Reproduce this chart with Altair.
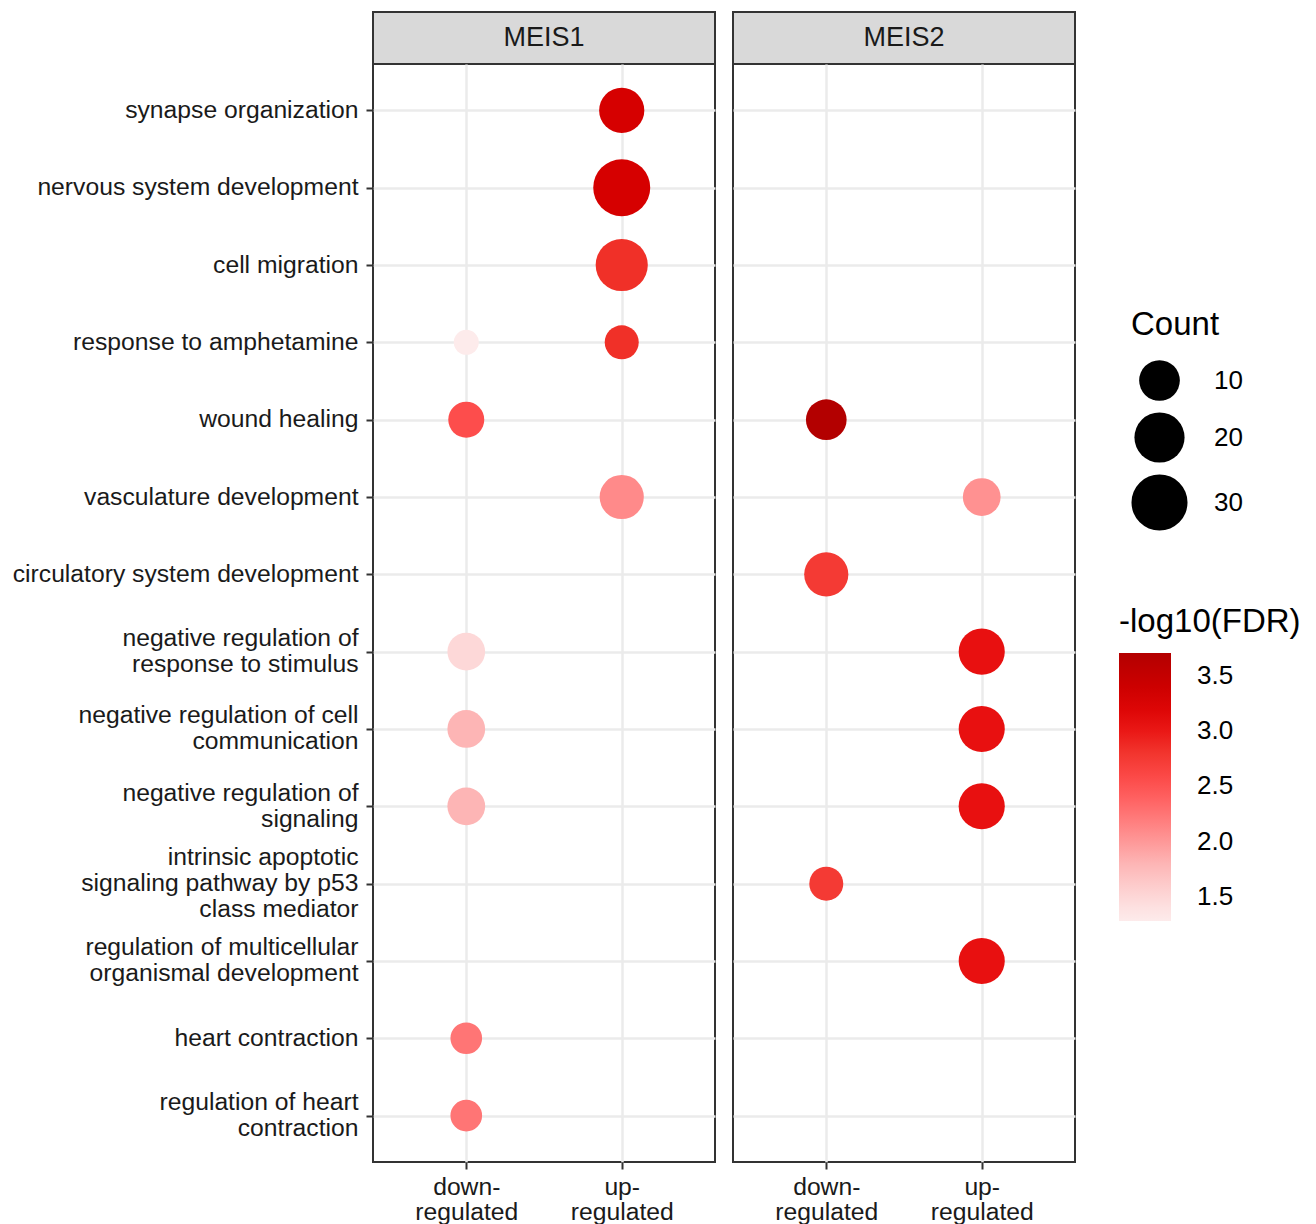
import altair as alt
import pandas as pd

FONT = "Liberation Sans"

terms = [
    "synapse organization",
    "nervous system development",
    "cell migration",
    "response to amphetamine",
    "wound healing",
    "vasculature development",
    "circulatory system development",
    "negative regulation of\nresponse to stimulus",
    "negative regulation of cell\ncommunication",
    "negative regulation of\nsignaling",
    "intrinsic apoptotic\nsignaling pathway by p53\nclass mediator",
    "regulation of multicellular\norganismal development",
    "heart contraction",
    "regulation of heart\ncontraction",
]
directions = ["down-\nregulated", "up-\nregulated"]
panels = ["MEIS1", "MEIS2"]

# one entry per dot
dot_panel = ["MEIS1"] * 12 + ["MEIS2"] * 8
dot_term = [
    terms[0], terms[1], terms[2], terms[3], terms[3], terms[4], terms[5],
    terms[7], terms[8], terms[9], terms[12], terms[13],
    terms[4], terms[5], terms[6], terms[7], terms[8], terms[9], terms[10], terms[11],
]
dot_dir = [
    directions[1], directions[1], directions[1], directions[0], directions[1], directions[0], directions[1],
    directions[0], directions[0], directions[0], directions[0], directions[0],
    directions[0], directions[1], directions[0], directions[1], directions[1], directions[1], directions[0], directions[1],
]
dot_count = [14, 32, 23, 3, 6, 7, 13, 8, 8, 8, 5, 5,
             10, 8, 13, 15, 15, 15, 6, 15]
dot_logfdr = [3.30, 3.30, 2.85, 1.28, 2.85, 2.55, 2.10, 1.50, 1.80, 1.80, 2.25, 2.25,
              3.71, 2.05, 2.75, 3.05, 3.05, 3.05, 2.75, 3.05]

color_stops = [1.28, 1.5, 1.8, 2.1, 2.5, 2.85, 3.05, 3.3, 3.71]
color_range = ["#fdebeb", "#fdd8d8", "#fdb5b5", "#ff8a8a", "#ff5252",
               "#f03028", "#e81010", "#d60000", "#b30000"]
count_ticks = [10, 20, 30]
fdr_ticks = [1.5, 2.0, 2.5, 3.0, 3.5]

df = pd.DataFrame({
    "panel": dot_panel,
    "term": dot_term,
    "direction": dot_dir,
    "Count": dot_count,
    "logfdr": dot_logfdr,
})

PW, PH, SH = 342, 1098, 52
BORDER = "#333333"
GRID = "#ebebeb"
LH = 26


def strip(name):
    return alt.Chart(pd.DataFrame({"panel": [name]})).mark_text(
        font=FONT, fontSize=27, color="#1a1a1a"
    ).encode(text="panel:N").properties(
        width=PW, height=SH,
        view=alt.ViewBackground(fill="#d9d9d9", stroke=BORDER, strokeWidth=2),
    )


def panel(name, first):
    d = df[df["panel"] == name]
    if first:
        y_axis = alt.Axis(
            title=None, labelExpr="split(datum.label, '\\n')", labelFont=FONT,
            labelFontSize=24.7, labelColor="#1a1a1a", labelLimit=600, labelPadding=8,
            labelLineHeight=LH, tickSize=7, tickWidth=2, tickColor=BORDER,
            labelOffset={
                "condition": [
                    {"test": "length(split(datum.value, '\\n')) >= 3", "value": -LH},
                    {"test": "length(split(datum.value, '\\n')) == 2", "value": -LH / 2},
                ],
                "value": 0,
            },
            domain=False, grid=True, gridColor=GRID, gridWidth=2.5,
        )
    else:
        y_axis = alt.Axis(title=None, labels=False, ticks=False, domain=False,
                          grid=True, gridColor=GRID, gridWidth=2.5)
    x_axis = alt.Axis(
        title=None, labelExpr="split(datum.label, '\\n')", labelFont=FONT,
        labelFontSize=24.7, labelColor="#1a1a1a", labelAngle=0, labelAlign="center",
        labelBaseline="top", labelPadding=5, labelLineHeight=25,
        tickSize=7, tickWidth=2, tickColor=BORDER, domain=False,
        grid=True, gridColor=GRID, gridWidth=2.5,
    )
    size_legend = None
    color_legend = None
    if not first:
        size_legend = alt.Legend(
            title="Count", orient="none", legendX=398, legendY=245,
            values=count_ticks, titleFont=FONT, titleFontSize=33,
            titleFontWeight="normal", titleColor="black", titlePadding=18,
            labelFont=FONT, labelFontSize=26, labelColor="black", labelOffset=26,
            symbolFillColor="black", symbolStrokeWidth=0, symbolOpacity=1,
            rowPadding=11, symbolType="circle",
        )
        color_legend = alt.Legend(
            title="-log10(FDR)", orient="none", legendX=386, legendY=542,
            values=fdr_ticks, format=".1f", direction="vertical",
            gradientLength=268, gradientThickness=52, gradientStrokeWidth=0,
            titleFont=FONT, titleFontSize=33, titleFontWeight="normal",
            titleColor="black", titlePadding=14, titleLimit=400,
            labelFont=FONT, labelFontSize=26, labelColor="black", labelOffset=26,
            labelBaseline="middle",
        )
    return alt.Chart(d).mark_circle(opacity=1).encode(
        x=alt.X("direction:N", scale=alt.Scale(type="point", domain=directions, padding=0.6), axis=x_axis),
        y=alt.Y("term:N", scale=alt.Scale(type="point", domain=terms, padding=0.6), axis=y_axis),
        size=alt.Size("Count:Q", scale=alt.Scale(type="pow", exponent=0.4, domain=[3, 32],
                                                 range=[625, 3249], zero=False),
                      legend=size_legend),
        color=alt.Color("logfdr:Q", scale=alt.Scale(domain=color_stops, range=color_range,
                                                    interpolate="rgb"),
                        legend=color_legend),
    ).properties(
        width=PW, height=PH,
        view=alt.ViewBackground(fill="white", stroke=BORDER, strokeWidth=2),
    )


chart = alt.concat(
    strip(panels[0]), strip(panels[1]), panel(panels[0], True), panel(panels[1], False),
    columns=2, spacing=alt.RowColnumber(row=0, column=18), bounds="flush",
).resolve_scale(color="independent", size="independent").resolve_legend(
    color="independent", size="independent"
).properties(
    padding={"left": 3, "top": 3, "right": 0, "bottom": 0},
    background="white",
)

chart.save("out.html", embed_options={"renderer": "svg", "actions": False})
